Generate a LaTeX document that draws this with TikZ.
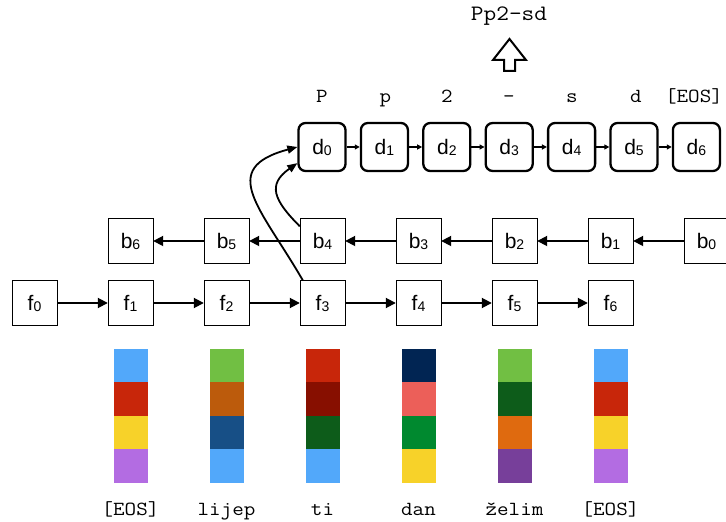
\documentclass[tikz,border=0pt]{standalone}
\usepackage{fontspec}
\setmainfont{Liberation Sans}
\newfontfamily\codefont{Latin Modern Mono}[FakeStretch=1.12]
\usepackage{tikz}
\usetikzlibrary{arrows.meta, positioning}
\definecolor{skyblue}{HTML}{52A8FA}
\definecolor{brickred}{HTML}{C8260A}
\definecolor{sunyellow}{HTML}{F7D229}
\definecolor{lilac}{HTML}{B36CE2}
\definecolor{grassgreen}{HTML}{71BF43}
\definecolor{rust}{HTML}{BC5B0C}
\definecolor{steelblue}{HTML}{174F86}
\definecolor{darkred}{HTML}{870F00}
\definecolor{pinegreen}{HTML}{0D5C1A}
\definecolor{navy}{HTML}{012553}
\definecolor{salmon}{HTML}{EC5F59}
\definecolor{leafgreen}{HTML}{00892F}
\definecolor{tangerine}{HTML}{DF6A0F}
\definecolor{plum}{HTML}{773F9A}
\newcommand{\idx}[1]{\raisebox{-1pt}{\fontsize{14}{14}\selectfont#1}}
\tikzset{
	x = 1pt,
	y = 1pt,
	line width = 2pt,
	>={Triangle[length=10pt,width=10pt]},
	vertex/.style={
		draw,
		minimum size=45pt,
		inner sep=0pt,
		font=\fontsize{21}{21}\selectfont
	},
	dec vertex/.style={
		vertex,
		line width=2.3pt,
		rounded corners=7pt,
		minimum width=47pt,
		minimum height=48pt
	},
	edge/.style={
		->,
		line width=1.8pt
	},
	tiny edge/.style={
		-{Triangle[length=5pt,width=5pt]},
		line width=1.5pt
	},
	attention/.style={
		-{Triangle[length=10pt,width=8pt]},
		line width=1.8pt
	},
	token/.style={
		anchor=base,
		inner sep=0pt,
		font=\codefont\fontsize{20}{20}\selectfont
	}
}

\begin{document}
\begin{tikzpicture}
	\useasboundingbox (0,0) rectangle (726,522);
	% forward encoder
	\node[vertex] (f0) at (34.5,219) {f\idx{0}};
	\node[vertex] (f1) at (130.5,219) {f\idx{1}};
	\node[vertex] (f2) at (226.5,219) {f\idx{2}};
	\node[vertex] (f3) at (322.5,219) {f\idx{3}};
	\node[vertex] (f4) at (418.5,219) {f\idx{4}};
	\node[vertex] (f5) at (514.5,219) {f\idx{5}};
	\node[vertex] (f6) at (610.5,219) {f\idx{6}};
	% backward encoder
	\node[vertex] (b6) at (130.5,281) {b\idx{6}};
	\node[vertex] (b5) at (226.5,281) {b\idx{5}};
	\node[vertex] (b4) at (322.5,281) {b\idx{4}};
	\node[vertex] (b3) at (418.5,281) {b\idx{3}};
	\node[vertex] (b2) at (514.5,281) {b\idx{2}};
	\node[vertex] (b1) at (610.5,281) {b\idx{1}};
	\node[vertex] (b0) at (706.5,281) {b\idx{0}};
	% decoder
	\node[dec vertex] (d0) at (322,375) {d\idx{0}};
	\node[dec vertex] (d1) at (384.4,375) {d\idx{1}};
	\node[dec vertex] (d2) at (446.8,375) {d\idx{2}};
	\node[dec vertex] (d3) at (509.2,375) {d\idx{3}};
	\node[dec vertex] (d4) at (571.6,375) {d\idx{4}};
	\node[dec vertex] (d5) at (634,375) {d\idx{5}};
	\node[dec vertex] (d6) at (696.4,375) {d\idx{6}};
	\foreach \i [evaluate=\i as \j using int(\i+1)] in {0,...,5} {
		\draw[edge] (f\i) -- (f\j);
		\draw[edge] (b\i) -- (b\j);
		\draw[tiny edge] (d\i) -- (d\j);
	}
	\draw[attention] ([xshift=3pt]f3.north west) to[out=120, in=195, looseness=1.6] (d0.west);
	\draw[attention] ([yshift=-8pt]b4.north west) to[out=135, in=215, looseness=1.5] ([yshift=9pt]d0.south west);
	% output characters
	\node[token] (c0) at (322,419) {P};
	\node[token] (c1) at (385.5,419) {p};
	\node[token] (c2) at (447,419) {2};
	\node[token] (c3) at (509,419) {-};
	\node[token] (c4) at (572,419) {s};
	\node[token] (c5) at (636,419) {d};
	\node[token] (c6) at (694,419) {[EOS]};
	\node[token, font=\codefont\fontsize{22}{22}\selectfont] (out) at (509,501) {Pp2-sd};
	\draw[line width=2pt] (493,462) -- (509.5,483) -- (526,462) -- (515,462)
		-- (515,451) -- (504,451) -- (504,462) -- cycle;
	% word embeddings
	\foreach \x/\ca/\cb/\cc/\cd in {130.5/skyblue/brickred/sunyellow/lilac,
			226.5/grassgreen/rust/steelblue/skyblue,
			322.5/brickred/darkred/pinegreen/skyblue,
			418.5/navy/salmon/leafgreen/sunyellow,
			514.5/grassgreen/pinegreen/tangerine/plum,
			610.5/skyblue/brickred/sunyellow/lilac} {
		\fill[\ca] (\x-17,173) rectangle (\x+17,139.5);
		\fill[\cb] (\x-17,139.5) rectangle (\x+17,106);
		\fill[\cc] (\x-17,106) rectangle (\x+17,72.5);
		\fill[\cd] (\x-17,72.5) rectangle (\x+17,39);
	}
	\node[token] (w0) at (130.5,6) {[EOS]};
	\node[token] (w1) at (226.5,6) {lijep};
	\node[token] (w2) at (322.5,6) {ti};
	\node[token] (w3) at (418.5,6) {dan};
	\node[token] (w4) at (514.5,6) {želim};
	\node[token] (w5) at (610.5,6) {[EOS]};
\end{tikzpicture}
\end{document}
